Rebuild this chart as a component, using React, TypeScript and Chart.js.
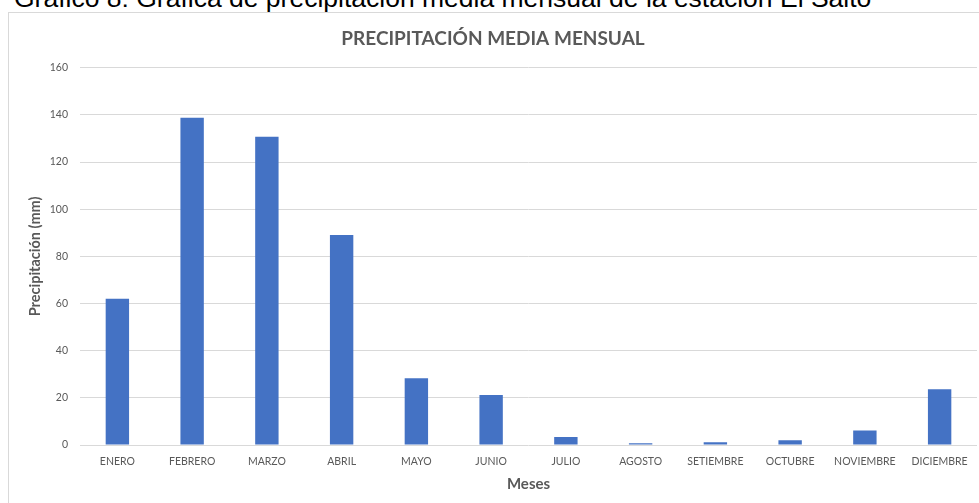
import React, { useEffect, useRef } from "react";
import { Chart, registerables } from "chart.js";

Chart.register(...registerables);

const CAPTION = "Gráfico 8: Gráfica de precipitación media mensual de la estación El Salto";
const TITLE = "PRECIPITACIÓN MEDIA MENSUAL";
const Y_TITLE = "Precipitación (mm)";
const X_TITLE = "Meses";

const MONTHS = [
  "ENERO", "FEBRERO", "MARZO", "ABRIL", "MAYO", "JUNIO",
  "JULIO", "AGOSTO", "SETIEMBRE", "OCTUBRE", "NOVIEMBRE", "DICIEMBRE",
];
const PRECIP_MM = [62.0, 138.8, 130.7, 89.1, 28.3, 21.2, 3.4, 0.7, 1.2, 2.0, 6.2, 23.6];

const Y_MIN = 0;
const Y_MAX = 160;
const Y_STEP = 20;

const FONT = "Lato, 'Open Sans', sans-serif";
const GRAY = "#595959";

export default function App() {
  const ref = useRef<HTMLCanvasElement | null>(null);

  useEffect(() => {
    const prevMargin = document.body.style.margin;
    document.body.style.margin = "0";
    if (!ref.current) return;
    const chart = new Chart(ref.current, {
      type: "bar",
      data: {
        labels: MONTHS,
        datasets: [
          {
            data: PRECIP_MM,
            backgroundColor: "#4472C4",
            borderWidth: 0,
            barPercentage: 0.313,
            categoryPercentage: 1,
          },
        ],
      },
      options: {
        responsive: false,
        animation: false,
        devicePixelRatio: 1,
        layout: { padding: { left: 0, right: 2, top: 0, bottom: 0 } },
        plugins: {
          legend: { display: false },
          tooltip: { enabled: false },
          title: {
            display: true,
            text: TITLE,
            color: GRAY,
            font: { family: FONT, size: 19, weight: "bold", lineHeight: 1.2 },
            padding: { top: 14, bottom: 18 },
          },
        },
        scales: {
          x: {
            grid: { display: false, drawTicks: false },
            border: { display: false },
            ticks: {
              color: GRAY,
              font: { family: FONT, size: 10.5 },
              padding: 10,
              maxRotation: 0,
              autoSkip: false,
            },
            title: {
              display: true,
              text: X_TITLE,
              color: GRAY,
              font: { family: FONT, size: 15, weight: "bold", lineHeight: 1.2 },
              padding: { top: 0, bottom: 10 },
            },
            afterFit: (s: any) => {
              s.height = 58;
            },
          },
          y: {
            min: Y_MIN,
            max: Y_MAX,
            ticks: {
              stepSize: Y_STEP,
              color: GRAY,
              font: { family: FONT, size: 10.5 },
              padding: 12,
            },
            grid: { color: "#d9d9d9", lineWidth: 1, drawTicks: false },
            border: { display: false },
            title: {
              display: true,
              text: Y_TITLE,
              color: GRAY,
              font: { family: FONT, size: 14.5, weight: "bold", lineHeight: 1.2 },
              padding: { top: 18, bottom: 0 },
            },
            afterFit: (s: any) => {
              s.width = 71;
            },
          },
        },
      },
    });
    return () => {
      chart.destroy();
      document.body.style.margin = prevMargin;
    };
  }, []);

  return (
    <div
      style={{
        position: "fixed",
        left: 0,
        top: 0,
        width: 979,
        height: 503,
        background: "#fff",
        overflow: "hidden",
      }}
    >
      <div
        style={{
          position: "absolute",
          left: 14,
          top: -16.7,
          fontFamily: "'Liberation Sans', Arial, sans-serif",
          fontSize: 26.5,
          lineHeight: "30px",
          color: "#000",
          whiteSpace: "nowrap",
        }}
      >
        {CAPTION}
      </div>
      <div
        style={{
          position: "absolute",
          left: 8,
          top: 12,
          width: 990,
          height: 510,
          border: "1px solid #d9d9d9",
          boxSizing: "border-box",
        }}
      >
        <canvas
          ref={ref}
          width={970}
          height={490}
          style={{ position: "absolute", left: 0, top: 0, display: "block" }}
        />
      </div>
    </div>
  );
}
